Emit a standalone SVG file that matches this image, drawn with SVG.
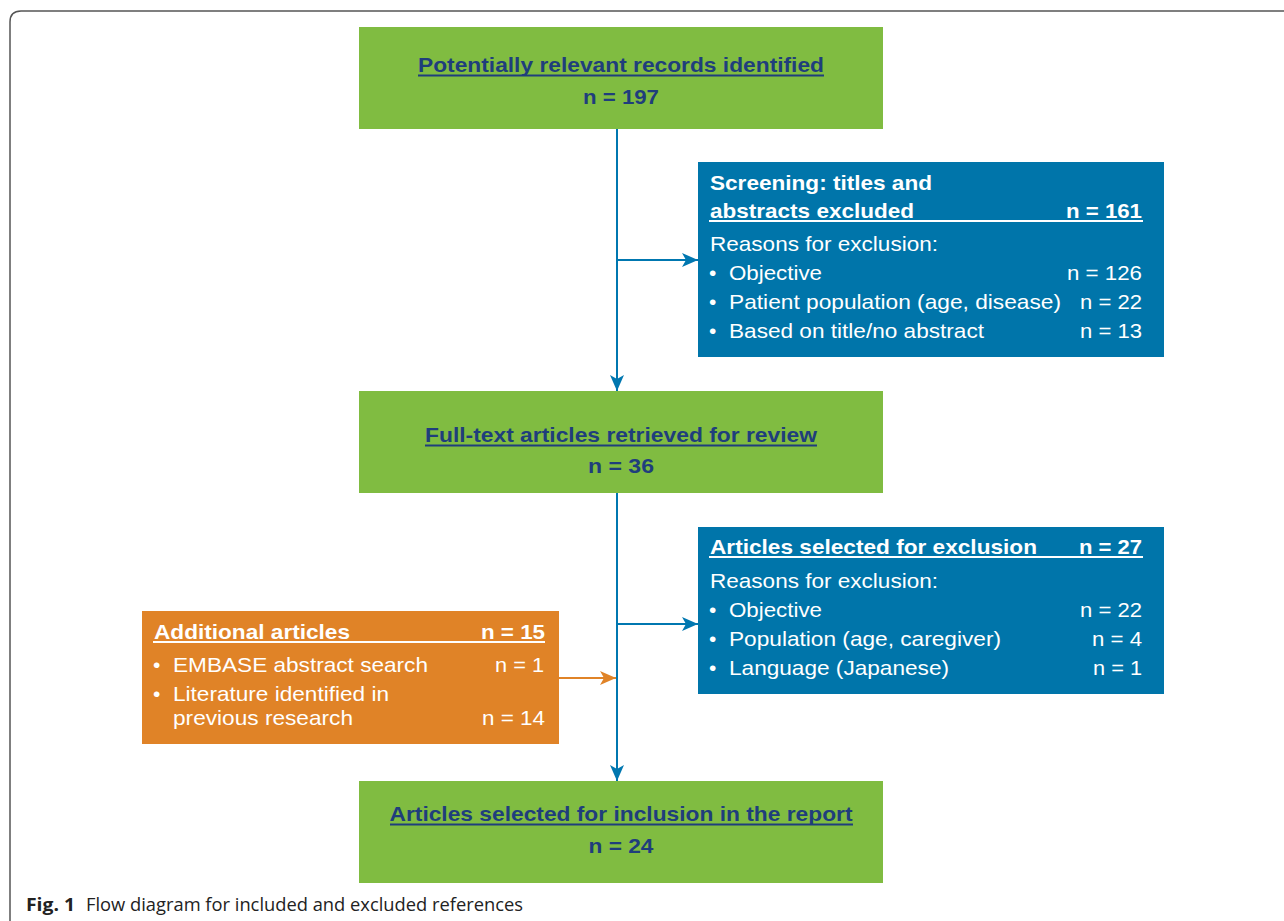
<svg xmlns="http://www.w3.org/2000/svg" width="1284" height="921" viewBox="0 0 1284 921">
<defs>
<style>
.green{fill:#80bc41}
.blue{fill:#0075aa}
.orange{fill:#e08327}
.gt{font-family:"Liberation Sans",Arial,sans-serif;font-size:21px;font-weight:bold;fill:#1f3e7c;text-anchor:middle}
.wt{font-family:"Liberation Sans",Arial,sans-serif;font-size:21px;fill:#ffffff}
.wb{font-weight:bold}
.r{text-anchor:end}
.con{stroke:#0077b0;stroke-width:2;fill:none}
.ocon{stroke:#e08327;stroke-width:2;fill:none}
.ul{stroke:#ffffff;stroke-width:2}
.gul{stroke:#1f3e7c;stroke-width:2}
.cap{font-family:"Open Sans","Liberation Sans",sans-serif;font-size:18px;fill:#222}
</style>
<marker id="ab" viewBox="0 0 16 14" refX="16" refY="7" markerWidth="16" markerHeight="14" markerUnits="userSpaceOnUse" orient="auto">
<path d="M0,0 L16,7 L0,14 L4,7 Z" fill="#0077b0"/>
</marker>
<marker id="ao" viewBox="0 0 16 14" refX="16" refY="7" markerWidth="16" markerHeight="14" markerUnits="userSpaceOnUse" orient="auto">
<path d="M0,0 L16,7 L0,14 L4,7 Z" fill="#e08327"/>
</marker>
</defs>
<rect width="1284" height="921" fill="#ffffff"/>
<path d="M10,921 L10,22 Q10,11 21,11 L1284,11" fill="none" stroke="#555" stroke-width="1.5"/>

<g id="connectors">
<line class="con" x1="617" y1="129" x2="617" y2="391" marker-end="url(#ab)"/>
<line class="con" x1="617" y1="260" x2="698" y2="260" marker-end="url(#ab)"/>
<line class="con" x1="617" y1="493" x2="617" y2="781" marker-end="url(#ab)"/>
<line class="con" x1="617" y1="624" x2="698" y2="624" marker-end="url(#ab)"/>
<line class="ocon" x1="559" y1="678" x2="616" y2="678" marker-end="url(#ao)"/>
</g>

<g id="n1">
<rect class="green" x="359" y="27" width="524" height="102"/>
<text class="gt" x="621" y="72" textLength="406" lengthAdjust="spacingAndGlyphs">Potentially relevant records identified</text>
<line class="gul" x1="418" y1="75.5" x2="824" y2="75.5"/>
<text class="gt" x="621" y="104" textLength="76" lengthAdjust="spacingAndGlyphs">n = 197</text>
</g>

<g id="n2">
<rect class="blue" x="698" y="162" width="466" height="195"/>
<text class="wt wb" x="710" y="190" textLength="222" lengthAdjust="spacingAndGlyphs">Screening: titles and</text>
<text class="wt wb" x="710" y="218" textLength="204" lengthAdjust="spacingAndGlyphs">abstracts excluded</text>
<text class="wt wb r" x="1142" y="218" textLength="76" lengthAdjust="spacingAndGlyphs">n = 161</text>
<line class="ul" x1="709" y1="221" x2="1143" y2="221"/>
<text class="wt" x="710" y="251" textLength="228" lengthAdjust="spacingAndGlyphs">Reasons for exclusion:</text>
<text class="wt" x="709" y="280">•</text>
<text class="wt" x="729" y="280" textLength="93" lengthAdjust="spacingAndGlyphs">Objective</text>
<text class="wt r" x="1142" y="280" textLength="75" lengthAdjust="spacingAndGlyphs">n = 126</text>
<text class="wt" x="709" y="309">•</text>
<text class="wt" x="729" y="309" textLength="332" lengthAdjust="spacingAndGlyphs">Patient population (age, disease)</text>
<text class="wt r" x="1142" y="309" textLength="62" lengthAdjust="spacingAndGlyphs">n = 22</text>
<text class="wt" x="709" y="338">•</text>
<text class="wt" x="729" y="338" textLength="255" lengthAdjust="spacingAndGlyphs">Based on title/no abstract</text>
<text class="wt r" x="1142" y="338" textLength="62" lengthAdjust="spacingAndGlyphs">n = 13</text>
</g>

<g id="n3">
<rect class="green" x="359" y="391" width="524" height="102"/>
<text class="gt" x="621" y="442" textLength="392" lengthAdjust="spacingAndGlyphs">Full-text articles retrieved for review</text>
<line class="gul" x1="425" y1="445.5" x2="817" y2="445.5"/>
<text class="gt" x="621" y="473" textLength="66" lengthAdjust="spacingAndGlyphs">n = 36</text>
</g>

<g id="n4">
<rect class="blue" x="698" y="527" width="466" height="167"/>
<text class="wt wb" x="710" y="554" textLength="327" lengthAdjust="spacingAndGlyphs">Articles selected for exclusion</text>
<text class="wt wb r" x="1142" y="554" textLength="63" lengthAdjust="spacingAndGlyphs">n = 27</text>
<line class="ul" x1="709" y1="557" x2="1143" y2="557"/>
<text class="wt" x="710" y="588" textLength="228" lengthAdjust="spacingAndGlyphs">Reasons for exclusion:</text>
<text class="wt" x="709" y="617">•</text>
<text class="wt" x="729" y="617" textLength="93" lengthAdjust="spacingAndGlyphs">Objective</text>
<text class="wt r" x="1142" y="617" textLength="62" lengthAdjust="spacingAndGlyphs">n = 22</text>
<text class="wt" x="709" y="646">•</text>
<text class="wt" x="729" y="646" textLength="272" lengthAdjust="spacingAndGlyphs">Population (age, caregiver)</text>
<text class="wt r" x="1142" y="646" textLength="50" lengthAdjust="spacingAndGlyphs">n = 4</text>
<text class="wt" x="709" y="675">•</text>
<text class="wt" x="729" y="675" textLength="220" lengthAdjust="spacingAndGlyphs">Language (Japanese)</text>
<text class="wt r" x="1142" y="675" textLength="49" lengthAdjust="spacingAndGlyphs">n = 1</text>
</g>

<g id="n5">
<rect class="orange" x="142" y="611" width="417" height="133"/>
<text class="wt wb" x="154" y="639" textLength="196" lengthAdjust="spacingAndGlyphs">Additional articles</text>
<text class="wt wb r" x="545" y="639" textLength="64" lengthAdjust="spacingAndGlyphs">n = 15</text>
<line class="ul" x1="153" y1="642" x2="545" y2="642"/>
<text class="wt" x="153" y="672">•</text>
<text class="wt" x="173" y="672" textLength="255" lengthAdjust="spacingAndGlyphs">EMBASE abstract search</text>
<text class="wt r" x="544" y="672" textLength="49" lengthAdjust="spacingAndGlyphs">n = 1</text>
<text class="wt" x="153" y="701">•</text>
<text class="wt" x="173" y="701" textLength="216" lengthAdjust="spacingAndGlyphs">Literature identified in</text>
<text class="wt" x="173" y="725" textLength="180" lengthAdjust="spacingAndGlyphs">previous research</text>
<text class="wt r" x="545" y="725" textLength="63" lengthAdjust="spacingAndGlyphs">n = 14</text>
</g>

<g id="n6">
<rect class="green" x="359" y="781" width="524" height="102"/>
<text class="gt" x="621" y="821" textLength="463" lengthAdjust="spacingAndGlyphs">Articles selected for inclusion in the report</text>
<line class="gul" x1="390" y1="824.5" x2="853" y2="824.5"/>
<text class="gt" x="621" y="853" textLength="65" lengthAdjust="spacingAndGlyphs">n = 24</text>
</g>

<g id="caption">
<text class="cap" x="26" y="911" font-weight="bold" textLength="49" lengthAdjust="spacingAndGlyphs">Fig. 1</text>
<text class="cap" x="86" y="911" textLength="437" lengthAdjust="spacingAndGlyphs">Flow diagram for included and excluded references</text>
</g>
</svg>
